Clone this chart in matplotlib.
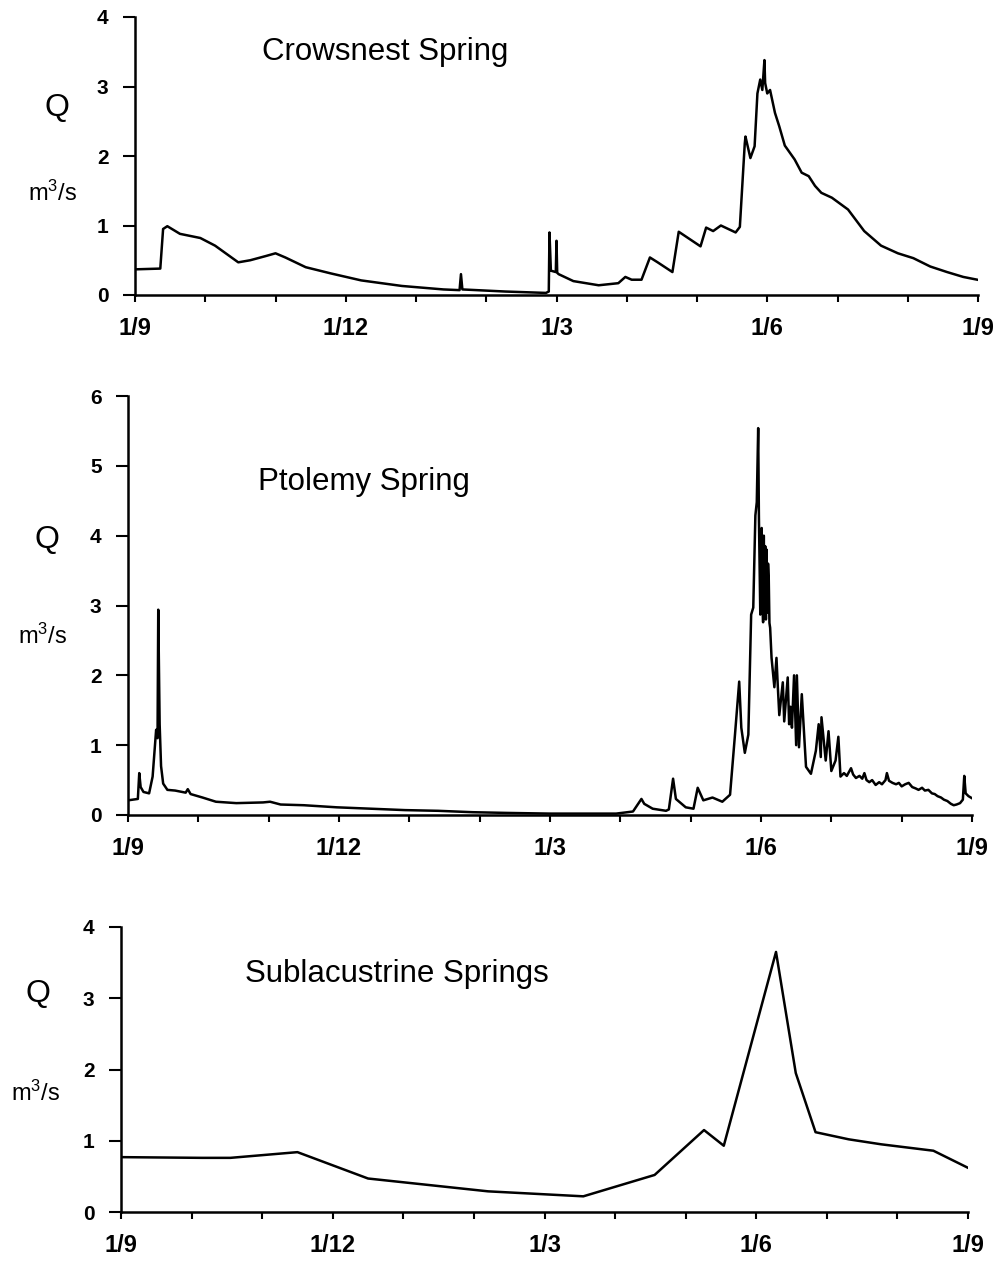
import matplotlib
matplotlib.use("Agg")
import matplotlib.pyplot as plt
from matplotlib.ticker import FixedLocator, MultipleLocator

plt.rcParams['font.family'] = ['Liberation Sans', 'DejaVu Sans']
plt.rcParams['mathtext.fontset'] = 'custom'
plt.rcParams['mathtext.rm'] = 'Liberation Sans'
plt.rcParams['mathtext.it'] = 'Liberation Sans'
plt.rcParams['mathtext.bf'] = 'Liberation Sans:bold'

# ---------------- data (x = months after 1 September) ----------------
month_ticks = [0, 3, 6, 9, 12]
month_labels = ['1/9', '1/12', '1/3', '1/6', '1/9']

crows_t = [0.03, 0.36, 0.40, 0.46, 0.64, 0.93, 1.14, 1.36, 1.47, 1.64, 1.86, 2.00,
           2.14, 2.43, 2.79, 3.22, 3.80, 4.39, 4.62, 4.64, 4.66, 5.27, 5.56, 5.85,
           5.89, 5.90, 5.92, 5.99, 6.00, 6.01, 6.03, 6.24, 6.60, 6.88, 6.98, 7.07,
           7.21, 7.33, 7.44, 7.65, 7.74, 8.05, 8.13, 8.23, 8.34, 8.55, 8.61, 8.68,
           8.69, 8.76, 8.82, 8.86, 8.90, 8.93, 8.96, 8.97, 9.00, 9.04, 9.11, 9.17,
           9.25, 9.39, 9.49, 9.59, 9.68, 9.77, 9.92, 10.15, 10.38, 10.62, 10.86,
           11.08, 11.32, 11.56, 11.79, 11.99]
crows_q = [0.37, 0.38, 0.95, 0.99, 0.88, 0.82, 0.71, 0.55, 0.47, 0.50, 0.56, 0.60,
           0.54, 0.40, 0.31, 0.21, 0.13, 0.08, 0.07, 0.30, 0.08, 0.05, 0.04, 0.03,
           0.05, 0.90, 0.35, 0.33, 0.78, 0.32, 0.30, 0.20, 0.14, 0.17, 0.26, 0.22,
           0.22, 0.54, 0.47, 0.33, 0.91, 0.70, 0.97, 0.92, 1.00, 0.90, 0.98, 2.18,
           2.28, 1.97, 2.14, 2.90, 3.10, 2.95, 3.38, 3.05, 2.90, 2.95, 2.62, 2.43,
           2.15, 1.95, 1.76, 1.71, 1.57, 1.47, 1.40, 1.23, 0.92, 0.71, 0.60,
           0.53, 0.41, 0.33, 0.26, 0.22]

ptol_t = [0.00, 0.14, 0.16, 0.18, 0.22, 0.30, 0.35, 0.38, 0.40, 0.42, 0.43, 0.45,
          0.47, 0.50, 0.56, 0.67, 0.82, 0.85, 0.89, 1.06, 1.25, 1.54, 1.92, 2.02,
          2.17, 2.50, 2.97, 3.46, 3.94, 4.41, 4.90, 5.38, 6.00, 6.94, 7.18, 7.30,
          7.34, 7.46, 7.65, 7.69, 7.75, 7.79, 7.93, 8.04, 8.10, 8.18, 8.31, 8.45,
          8.56, 8.63, 8.69, 8.72, 8.77, 8.82, 8.86, 8.89, 8.92, 8.94, 8.96, 8.97,
          8.99, 9.00, 9.01, 9.02, 9.03, 9.04, 9.05, 9.06, 9.07, 9.08, 9.09, 9.10,
          9.11, 9.12, 9.13, 9.15, 9.19, 9.22, 9.24, 9.26, 9.31, 9.33, 9.35, 9.38,
          9.40, 9.42, 9.44, 9.47, 9.50, 9.51, 9.54, 9.58, 9.64, 9.71, 9.78, 9.82,
          9.85, 9.86, 9.92, 9.96, 10.00, 10.06, 10.10, 10.13, 10.18, 10.22, 10.28,
          10.31, 10.35, 10.40, 10.44, 10.47, 10.50, 10.54, 10.58, 10.63, 10.68,
          10.72, 10.77, 10.79, 10.82, 10.87, 10.92, 10.96, 11.00, 11.05, 11.10,
          11.15, 11.20, 11.24, 11.29, 11.33, 11.38, 11.43, 11.47, 11.51, 11.56,
          11.60, 11.65, 11.70, 11.74, 11.78, 11.83, 11.87, 11.89, 11.91, 11.95,
          12.00]
ptol_q = [0.21, 0.23, 0.60, 0.40, 0.33, 0.31, 0.55, 0.95, 1.22, 1.10, 2.94, 1.30,
          0.70, 0.45, 0.36, 0.35, 0.32, 0.37, 0.30, 0.25, 0.19, 0.17, 0.18, 0.19,
          0.15, 0.14, 0.11, 0.09, 0.07, 0.06, 0.04, 0.03, 0.02, 0.02, 0.05, 0.23,
          0.16, 0.09, 0.06, 0.08, 0.52, 0.23, 0.11, 0.09, 0.39, 0.21, 0.25, 0.19,
          0.29, 1.15, 1.91, 1.25, 0.89, 1.15, 2.87, 2.97, 4.29, 4.48, 5.54, 4.29,
          2.87, 3.90, 4.11, 3.10, 2.76, 4.00, 3.05, 3.85, 2.80, 3.80, 2.90, 3.60,
          3.40, 2.75, 2.68, 2.25, 1.83, 2.25, 1.82, 1.43, 1.90, 1.34, 1.60, 1.97,
          1.30, 1.55, 1.25, 2.00, 1.00, 2.00, 0.97, 1.73, 0.69, 0.59, 0.92, 1.30,
          0.83, 1.40, 0.78, 1.20, 0.63, 0.78, 1.12, 0.55, 0.60, 0.56, 0.67,
          0.58, 0.53, 0.56, 0.52, 0.60, 0.50, 0.47, 0.50, 0.43, 0.47,
          0.44, 0.50, 0.60, 0.49, 0.46, 0.44, 0.46, 0.41, 0.44, 0.46,
          0.40, 0.38, 0.36, 0.39, 0.35, 0.36, 0.31, 0.30, 0.27, 0.25,
          0.22, 0.20, 0.16, 0.14, 0.15, 0.17, 0.22, 0.56, 0.31, 0.27,
          0.24]

subl_t = [0.0, 1.15, 1.55, 2.50, 3.50, 5.20, 6.55, 7.56, 8.26, 8.54, 9.28, 9.56,
          9.84, 10.31, 10.77, 11.51, 12.0]
subl_q = [0.77, 0.76, 0.76, 0.84, 0.47, 0.29, 0.22, 0.52, 1.15, 0.93, 3.65, 1.95,
          1.12, 1.02, 0.95, 0.86, 0.62]

# ---------------- figure ----------------
W, H = 998, 1270
fig = plt.figure(figsize=(W / 100, H / 100), dpi=100)


def add_panel(left, right, bottom, top):
    return fig.add_axes([left / W, 1 - bottom / H, (right - left) / W, (bottom - top) / H])


def style(ax, ymax):
    for s in ('top', 'right'):
        ax.spines[s].set_visible(False)
    for s in ('left', 'bottom'):
        ax.spines[s].set_linewidth(1.8)
    ax.set_xlim(0, 12)
    ax.set_ylim(0, ymax)
    ax.xaxis.set_major_locator(FixedLocator(month_ticks))
    ax.set_xticklabels(month_labels)
    ax.xaxis.set_minor_locator(MultipleLocator(1))
    ax.yaxis.set_major_locator(MultipleLocator(1))
    ax.tick_params(axis='x', which='both', direction='out', length=5, width=1.5,
                   labelsize=17, pad=11)
    ax.tick_params(axis='y', direction='out', length=9, width=1.5, labelsize=15, pad=10)
    for lbl in ax.get_xticklabels() + ax.get_yticklabels():
        lbl.set_fontweight('bold')


ax1 = add_panel(135, 978, 295, 17)
ax1.plot(crows_t, crows_q, color='black', lw=1.8)
style(ax1, 4)

ax2 = add_panel(128, 972, 815, 396)
ax2.plot(ptol_t, ptol_q, color='black', lw=1.8)
style(ax2, 6)

ax3 = add_panel(121, 968, 1212, 927)
ax3.plot(subl_t, subl_q, color='black', lw=1.8)
style(ax3, 4)

# titles
fig.text(262 / W, 1 - 60 / H, 'Crowsnest Spring', fontsize=22.5, ha='left', va='baseline')
fig.text(258 / W, 1 - 490 / H, 'Ptolemy Spring', fontsize=22.5, ha='left', va='baseline')
fig.text(245 / W, 1 - 982 / H, 'Sublacustrine Springs', fontsize=22.5, ha='left', va='baseline')

# axis unit labels
for (qx, qy), (ux, uy) in [((57, 108), (53, 193)), ((47, 540), (43, 636)), ((38, 994), (36, 1093))]:
    fig.text(qx / W, 1 - qy / H, 'Q', fontsize=23, ha='center', va='center')
    fig.text(ux / W, 1 - uy / H, r'm$^3$/s', fontsize=17, ha='center', va='center')

fig.savefig('out.png', dpi=100, facecolor='white')
